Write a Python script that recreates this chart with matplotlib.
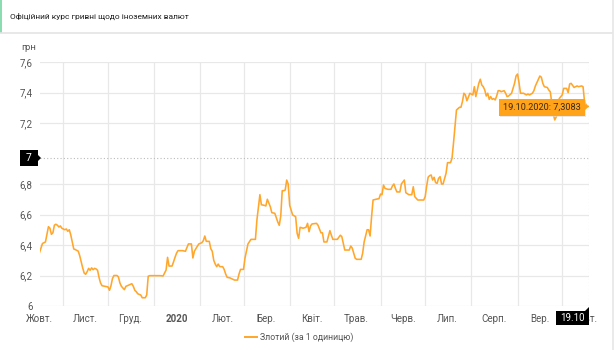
import pandas as pd
import matplotlib
matplotlib.use("Agg")
import matplotlib.pyplot as plt
from matplotlib.patches import Rectangle, Polygon

plt.rcParams['font.family'] = ['Roboto', 'DejaVu Sans']

# --- data: zloty rate (UAH per 1 PLN) ---
dates = [
    "2019-10-16", "2019-10-17", "2019-10-18", "2019-10-20", "2019-10-21", "2019-10-22", "2019-10-23",
    "2019-10-24", "2019-10-25", "2019-10-26", "2019-10-27", "2019-10-28", "2019-10-29", "2019-10-30",
    "2019-10-31", "2019-11-01", "2019-11-02", "2019-11-03", "2019-11-04", "2019-11-05", "2019-11-06",
    "2019-11-07", "2019-11-08", "2019-11-09", "2019-11-11", "2019-11-12", "2019-11-13", "2019-11-14",
    "2019-11-15", "2019-11-16", "2019-11-17", "2019-11-18", "2019-11-19", "2019-11-20", "2019-11-21",
    "2019-11-22", "2019-11-23", "2019-11-24", "2019-11-25", "2019-11-26", "2019-11-27", "2019-11-29",
    "2019-12-01", "2019-12-02", "2019-12-03", "2019-12-04", "2019-12-05", "2019-12-07", "2019-12-08",
    "2019-12-09", "2019-12-10", "2019-12-12", "2019-12-13", "2019-12-14", "2019-12-16", "2019-12-17",
    "2019-12-18", "2019-12-19", "2019-12-20", "2019-12-21", "2019-12-23", "2019-12-24", "2019-12-26",
    "2019-12-27", "2019-12-28", "2019-12-29", "2020-01-05", "2020-01-07", "2020-01-09", "2020-01-10",
    "2020-01-11", "2020-01-13", "2020-01-14", "2020-01-15", "2020-01-16", "2020-01-17", "2020-01-20",
    "2020-01-22", "2020-01-24", "2020-01-26", "2020-01-27", "2020-01-28", "2020-01-29", "2020-01-31",
    "2020-02-02", "2020-02-03", "2020-02-04", "2020-02-05", "2020-02-07", "2020-02-08", "2020-02-09",
    "2020-02-10", "2020-02-11", "2020-02-12", "2020-02-13", "2020-02-14", "2020-02-16", "2020-02-17",
    "2020-02-18", "2020-02-19", "2020-02-21", "2020-02-22", "2020-02-24", "2020-02-26", "2020-02-27",
    "2020-02-28", "2020-03-01", "2020-03-02", "2020-03-04", "2020-03-06", "2020-03-09", "2020-03-10",
    "2020-03-12", "2020-03-13", "2020-03-15", "2020-03-16", "2020-03-17", "2020-03-19", "2020-03-20",
    "2020-03-22", "2020-03-24", "2020-03-25", "2020-03-26", "2020-03-27", "2020-03-28", "2020-03-29",
    "2020-03-30", "2020-03-31", "2020-04-01", "2020-04-03", "2020-04-05", "2020-04-06", "2020-04-07",
    "2020-04-08", "2020-04-10", "2020-04-12", "2020-04-13", "2020-04-14", "2020-04-15", "2020-04-16",
    "2020-04-19", "2020-04-20", "2020-04-22", "2020-04-23", "2020-04-24", "2020-04-26", "2020-04-28",
    "2020-04-29", "2020-04-30", "2020-05-03", "2020-05-05", "2020-05-06", "2020-05-08", "2020-05-11",
    "2020-05-12", "2020-05-13", "2020-05-15", "2020-05-16", "2020-05-19", "2020-05-20", "2020-05-21",
    "2020-05-23", "2020-05-24", "2020-05-25", "2020-05-26", "2020-05-27", "2020-05-29", "2020-05-31",
    "2020-06-01", "2020-06-02", "2020-06-03", "2020-06-04", "2020-06-06", "2020-06-08", "2020-06-09",
    "2020-06-10", "2020-06-11", "2020-06-12", "2020-06-14", "2020-06-15", "2020-06-17", "2020-06-18",
    "2020-06-20", "2020-06-22", "2020-06-23", "2020-06-24", "2020-06-26", "2020-06-30", "2020-07-01",
    "2020-07-02", "2020-07-03", "2020-07-04", "2020-07-05", "2020-07-06", "2020-07-07", "2020-07-08",
    "2020-07-09", "2020-07-10", "2020-07-11", "2020-07-12", "2020-07-13", "2020-07-15", "2020-07-16",
    "2020-07-18", "2020-07-19", "2020-07-20", "2020-07-21", "2020-07-22", "2020-07-24", "2020-07-25",
    "2020-07-26", "2020-07-27", "2020-07-28", "2020-07-29", "2020-07-30", "2020-07-31", "2020-08-02",
    "2020-08-03", "2020-08-04", "2020-08-05", "2020-08-06", "2020-08-07", "2020-08-08", "2020-08-09",
    "2020-08-10", "2020-08-11", "2020-08-12", "2020-08-13", "2020-08-14", "2020-08-15", "2020-08-16",
    "2020-08-17", "2020-08-18", "2020-08-19", "2020-08-20", "2020-08-21", "2020-08-23", "2020-08-24",
    "2020-08-25", "2020-08-26", "2020-08-28", "2020-08-30", "2020-08-31", "2020-09-01", "2020-09-02",
    "2020-09-03", "2020-09-05", "2020-09-07", "2020-09-08", "2020-09-09", "2020-09-11", "2020-09-12",
    "2020-09-13", "2020-09-15", "2020-09-16", "2020-09-17", "2020-09-18", "2020-09-19", "2020-09-21",
    "2020-09-22", "2020-09-23", "2020-09-24", "2020-09-25", "2020-09-26", "2020-09-27", "2020-09-28",
    "2020-09-29", "2020-10-01", "2020-10-02", "2020-10-04", "2020-10-05", "2020-10-06", "2020-10-07",
    "2020-10-09", "2020-10-10", "2020-10-11", "2020-10-12", "2020-10-14", "2020-10-15", "2020-10-16",
    "2020-10-17", "2020-10-18", "2020-10-19",
]
rates = [
    6.35, 6.38, 6.41, 6.42, 6.47, 6.52, 6.51,
    6.47, 6.48, 6.53, 6.536, 6.53, 6.518, 6.525,
    6.51, 6.505, 6.50, 6.505, 6.49, 6.50, 6.466,
    6.42, 6.374, 6.37, 6.36, 6.33, 6.29, 6.25,
    6.216, 6.208, 6.225, 6.247, 6.234, 6.25, 6.238,
    6.247, 6.243, 6.234, 6.186, 6.151, 6.133, 6.129,
    6.125, 6.103, 6.133, 6.18, 6.20, 6.20, 6.19,
    6.151, 6.129, 6.107, 6.129, 6.133, 6.142, 6.146,
    6.129, 6.103, 6.094, 6.08, 6.072, 6.054, 6.054,
    6.072, 6.195, 6.199, 6.199, 6.197, 6.236, 6.319,
    6.262, 6.262, 6.289, 6.319, 6.346, 6.363, 6.363,
    6.359, 6.407, 6.407, 6.315, 6.359, 6.376, 6.407,
    6.415, 6.428, 6.459, 6.424, 6.424, 6.376, 6.359,
    6.30, 6.275, 6.258, 6.275, 6.258, 6.258, 6.24,
    6.21, 6.188, 6.184, 6.179, 6.17, 6.17, 6.21,
    6.24, 6.24, 6.315, 6.407, 6.437, 6.437, 6.564,
    6.73, 6.664, 6.66, 6.656, 6.70, 6.651, 6.612,
    6.608, 6.551, 6.529, 6.59, 6.756, 6.756, 6.76,
    6.826, 6.80, 6.66, 6.597, 6.586, 6.477, 6.444,
    6.516, 6.51, 6.516, 6.542, 6.487, 6.525, 6.538,
    6.542, 6.53, 6.48, 6.48, 6.42, 6.42, 6.494,
    6.464, 6.437, 6.437, 6.464, 6.455, 6.367, 6.367,
    6.393, 6.38, 6.313, 6.306, 6.306, 6.346, 6.42,
    6.50, 6.50, 6.459, 6.586, 6.695, 6.70, 6.704,
    6.734, 6.73, 6.793, 6.771, 6.765, 6.765, 6.787,
    6.80, 6.771, 6.748, 6.748, 6.80, 6.826, 6.743,
    6.73, 6.73, 6.782, 6.717, 6.695, 6.695, 6.717,
    6.787, 6.845, 6.855, 6.859, 6.826, 6.844, 6.809,
    6.804, 6.837, 6.848, 6.80, 6.80, 6.87, 6.94,
    6.94, 6.968, 7.067, 7.176, 7.285, 7.303, 7.303,
    7.34, 7.395, 7.384, 7.346, 7.369, 7.395, 7.384,
    7.438, 7.373, 7.416, 7.46, 7.487, 7.449, 7.438,
    7.416, 7.377, 7.395, 7.355, 7.373, 7.355, 7.36,
    7.351, 7.377, 7.412, 7.412, 7.405, 7.412, 7.395,
    7.373, 7.377, 7.395, 7.46, 7.508, 7.521, 7.465,
    7.395, 7.395, 7.384, 7.39, 7.384, 7.395, 7.412,
    7.443, 7.487, 7.508, 7.50, 7.46, 7.438, 7.433,
    7.416, 7.405, 7.33, 7.26, 7.22, 7.24, 7.30,
    7.36, 7.384, 7.427, 7.427, 7.399, 7.456, 7.46,
    7.433, 7.438, 7.443, 7.438, 7.443, 7.438, 7.34,
    7.32, 7.31, 7.3083,
]

y_ticks = [6, 6.2, 6.4, 6.6, 6.8, 7.2, 7.4, 7.6]
y_labels = ["6", "6,2", "6,4", "6,6", "6,8", "7,2", "7,4", "7,6"]
month_labels = ["Жовт.", "Лист.", "Груд.", "2020", "Лют.", "Бер.", "Квіт.",
                "Трав.", "Черв.", "Лип.", "Серп.", "Вер.", "Жовт."]

title = "Офіційний курс гривні щодо іноземних валют"
series_name = "Злотий (за 1 одиницю)"
tooltip_text = "19.10.2020: 7,3083"
cursor_value = 6.97

LINE = "#ffa62b"
GRID = "#e8e8e8"
TXT = "#555555"

W, H = 616, 350
x = pd.to_datetime(dates)
label_pos = pd.date_range("2019-10-16", "2020-10-16", freq=pd.DateOffset(months=1))
month_starts = pd.date_range("2019-11-01", "2020-10-01", freq="MS")

fig = plt.figure(figsize=(W / 100, H / 100), dpi=100)
fig.patch.set_facecolor("white")


def fx(px):
    return px / W


def fy(py):
    return 1 - py / H


# header card
fig.add_artist(plt.Line2D([0, fx(612)], [fy(33), fy(33)], transform=fig.transFigure,
                          color="#e4e4e4", lw=1.2))
fig.add_artist(Rectangle((0, fy(33)), fx(1.6), 33 / H, transform=fig.transFigure,
                         facecolor="#8bdcb0", edgecolor="none"))
fig.add_artist(plt.Line2D([fx(612.5), fx(612.5)], [0, 1], transform=fig.transFigure,
                          color="#e6e6e6", lw=1.2))
fig.text(fx(10), fy(16), title, fontsize=6.0, color="#1e1e1e", va="center", ha="left")

# plot area
ax = fig.add_axes([fx(39.5), fy(306), (589 - 39.5) / W, (306 - 62) / H])
ax.plot(x, rates, color=LINE, lw=1.15, solid_joinstyle="round")

ax.set_xlim(pd.Timestamp("2019-10-16"), pd.Timestamp("2020-10-19"))
ax.set_ylim(6, 7.6)

ax.set_yticks(y_ticks)
ax.set_yticklabels(y_labels)
ax.set_xticks(label_pos)
ax.set_xticklabels(month_labels)
ax.set_xticks(month_starts, minor=True)
for lbl in ax.get_xticklabels():
    if lbl.get_text() == "2020":
        lbl.set_fontweight("bold")
        lbl.set_color("#222222")

ax.tick_params(axis="both", which="both", length=0, labelsize=7, labelcolor=TXT)
ax.tick_params(axis="y", pad=5)
ax.tick_params(axis="x", pad=6)
ax.grid(axis="y", which="major", color=GRID, lw=0.9)
ax.grid(axis="x", which="minor", color=GRID, lw=0.9)
ax.set_axisbelow(True)
for s in ax.spines.values():
    s.set_visible(False)

# crosshair
ax.axhline(cursor_value, color="#bbbbbb", lw=0.8, ls=(0, (1, 2)))
ax.axvline(x[-1], color="#bbbbbb", lw=0.8, ls=(0, (1, 2)))

fig.text(fx(36), fy(48), "грн", fontsize=6.8, color=TXT, ha="right", va="center")

# y cursor label
fig.add_artist(Rectangle((fx(20), fy(166)), fx(18), 16 / H, transform=fig.transFigure,
                         facecolor="black", edgecolor="none"))
fig.add_artist(Polygon([[fx(38), fy(155)], [fx(41), fy(158)], [fx(38), fy(161)]],
                       closed=True, transform=fig.transFigure, facecolor="black"))
fig.text(fx(29), fy(158), "7", fontsize=7.5, color="white", ha="center", va="center")

# x cursor label (covers the last month label, as in the original)
fig.add_artist(Rectangle((fx(556), fy(325)), fx(33), 14 / H, transform=fig.transFigure,
                         facecolor="black", edgecolor="none", zorder=5))
fig.add_artist(Polygon([[fx(585), fy(311)], [fx(589), fy(307)], [fx(589), fy(311)]],
                       closed=True, transform=fig.transFigure, facecolor="black", zorder=5))
fig.text(fx(572.5), fy(318), "19.10", fontsize=7, color="white", ha="center", va="center",
         zorder=6)

# tooltip
fig.add_artist(Rectangle((fx(500), fy(117)), fx(86), 17 / H, transform=fig.transFigure,
                         facecolor="#d9d9d9", edgecolor="none", alpha=0.6))
fig.add_artist(Rectangle((fx(499), fy(116)), fx(86), 17 / H, transform=fig.transFigure,
                         facecolor="#ffa31a", edgecolor="none"))
fig.add_artist(Polygon([[fx(585), fy(104)], [fx(588.5), fy(107)], [fx(585), fy(110)]],
                       closed=True, transform=fig.transFigure, facecolor="#ffa31a"))
fig.text(fx(542), fy(107.5), tooltip_text, fontsize=6.6, color="#3b2a12", ha="center", va="center")

# legend
fig.add_artist(plt.Line2D([fx(245), fx(257)], [fy(337), fy(337)], transform=fig.transFigure,
                          color=LINE, lw=1.4))
fig.text(fx(260), fy(337), series_name, fontsize=6.3, color=TXT, ha="left", va="center")

fig.savefig("out.png", dpi=100, facecolor="white")
